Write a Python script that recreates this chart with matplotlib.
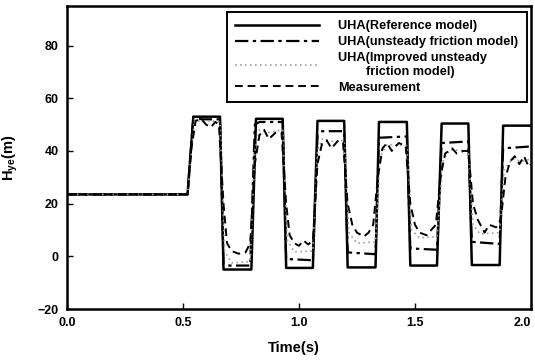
import matplotlib
matplotlib.use('Agg')
import matplotlib.pyplot as plt

plt.rcParams['font.family'] = ['Liberation Sans', 'DejaVu Sans']
plt.rcParams['font.weight'] = 'bold'
plt.rcParams['mathtext.fontset'] = 'custom'
plt.rcParams['mathtext.bf'] = 'Liberation Sans:bold'
plt.rcParams['mathtext.rm'] = 'Liberation Sans:bold'

# UHA reference model (solid)
t_ref = [0.0, 0.52, 0.545, 0.66, 0.675, 0.795, 0.815, 0.93, 0.945, 1.06, 1.08,
         1.195, 1.21, 1.33, 1.345, 1.465, 1.48, 1.595, 1.615, 1.73, 1.745, 1.865,
         1.88, 2.0]
h_ref = [23.5, 23.5, 53, 53, -5, -5, 52.2, 52.2, -4.4, -4.4, 51.4, 51.4, -4.2,
         -4.2, 51, 51, -3.5, -3.5, 50.4, 50.4, -3.3, -3.3, 49.6, 49.6]

# UHA unsteady friction model (dash-dot)
t_uf = [0.0, 0.52, 0.545, 0.58, 0.66, 0.675, 0.70, 0.79, 0.81, 0.83, 0.93,
        0.945, 1.06, 1.08, 1.10, 1.195, 1.21, 1.33, 1.345, 1.465, 1.48, 1.595,
        1.615, 1.73, 1.745, 1.865, 1.88, 2.0]
h_uf = [23.5, 23.5, 53, 52, 52, -3, -3.5, -3.5, 50, 51, 51, -1, -1.5, 46, 47.5,
        47.5, 1.5, 0.8, 45, 45.5, 3, 2.5, 43, 43.6, 5.5, 4.7, 41, 41.7]

# UHA improved unsteady friction model (dotted)
t_iuf = [0.0, 0.52, 0.55, 0.58, 0.62, 0.66, 0.68, 0.71, 0.79, 0.81, 0.83, 0.87,
         0.93, 0.95, 0.98, 1.06, 1.08, 1.10, 1.15, 1.195, 1.215, 1.25, 1.33,
         1.35, 1.38, 1.465, 1.485, 1.52, 1.595, 1.62, 1.65, 1.73, 1.75, 1.78,
         1.865, 1.885, 1.92, 1.96, 2.0]
h_iuf = [23.5, 23.5, 52, 51, 51.5, 51, 2, -2.5, -2, 40, 48, 47, 48, 6, 1.7, 2,
         40, 44.5, 43.5, 44, 9, 5, 5.5, 38, 42.5, 42, 10, 7, 7.5, 36, 40.5, 40,
         12, 8.5, 9, 33, 37, 36, 37]

# Measurement (dashed)
t_meas = [0.0, 0.52, 0.535, 0.555, 0.58, 0.60, 0.62, 0.64, 0.655, 0.675, 0.69,
          0.71, 0.74, 0.77, 0.79, 0.81, 0.83, 0.85, 0.87, 0.90, 0.925, 0.945,
          0.96, 0.98, 1.00, 1.02, 1.04, 1.06, 1.08, 1.10, 1.12, 1.14, 1.17, 1.19,
          1.21, 1.23, 1.25, 1.28, 1.30, 1.32, 1.34, 1.36, 1.38, 1.40, 1.43, 1.46,
          1.48, 1.50, 1.52, 1.55, 1.57, 1.59, 1.61, 1.63, 1.66, 1.68, 1.71, 1.73,
          1.75, 1.77, 1.80, 1.82, 1.85, 1.87, 1.89, 1.91, 1.93, 1.95, 1.97, 1.99,
          2.0]
h_meas = [23.5, 23.5, 40, 51.5, 52, 50, 49, 51, 50, 20, 5, 2, 1, 1.5, 5, 35, 46,
          48, 44.5, 47, 47, 20, 8, 5, 4, 6, 4.5, 6, 35, 43, 44, 41, 44, 43, 20,
          12, 9, 7.5, 9, 12, 30, 41, 43, 40, 43, 42, 20, 12, 9, 8, 10, 12, 30,
          39, 41, 39, 40, 40, 20, 14, 9, 12, 11, 14, 30, 36, 38, 35, 38, 34, 35]

labels = ['UHA(Reference model)', 'UHA(unsteady friction model)',
          'UHA(Improved unsteady\n        friction model)', 'Measurement']

fig = plt.figure(figsize=(5.35, 3.64), dpi=100)
ax = fig.add_axes([0.125, 0.151, 0.8675, 0.8325])

ax.plot(t_ref, h_ref, color='black', lw=1.8, ls='-', label=labels[0])
ax.plot(t_uf, h_uf, color='black', lw=1.6, ls=(0, (6, 2, 1.5, 2)), label=labels[1])
ax.plot(t_iuf, h_iuf, color='#a0a0a0', lw=1.2, ls=(0, (1, 2)), label=labels[2])
ax.plot(t_meas, h_meas, color='black', lw=1.4, ls=(0, (4, 2.5)), label=labels[3])

ax.set_xlim(0, 2.0)
ax.set_ylim(-20, 95)
ax.set_xticks([0.0, 0.5, 1.0, 1.5, 2.0])
ax.set_xticklabels(['0.0', '0.5', '1.0', '1.5', '2.0'])
ax.get_xticklabels()[-1].set_horizontalalignment('right')
ax.set_yticks([-20, 0, 20, 40, 60, 80])
ax.tick_params(direction='in', length=4, width=1, labelsize=9, pad=6)
for s in ax.spines.values():
    s.set_linewidth(1.8)

ax.set_xlabel('Time(s)', fontsize=10.5, fontweight='bold')
ax.xaxis.set_label_coords(0.49, -0.105)
ax.set_ylabel(r'$\mathbf{H_{ye}}$(m)', fontsize=10.5, fontweight='bold')
ax.yaxis.set_label_coords(-0.10, 0.5)

leg = ax.legend(loc='upper right', bbox_to_anchor=(0.991, 0.98), fontsize=9.2,
                handlelength=6.6, handletextpad=1.5, borderpad=0.65,
                labelspacing=0.3, borderaxespad=0, fancybox=False,
                framealpha=1)
leg.get_frame().set_edgecolor('black')
leg.get_frame().set_linewidth(1.4)

plt.savefig('out.png', dpi=100)
